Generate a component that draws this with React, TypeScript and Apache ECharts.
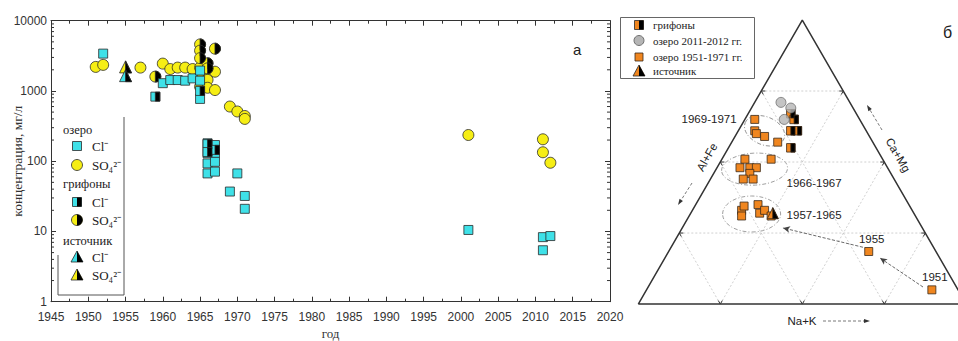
import React, { useEffect, useRef } from "react";
import * as echarts from "echarts";

// ---------- Panel "а": concentration vs year (mg/l) ----------
const lakeCl: number[][] = [
  [1952, 3400], [1960, 1290], [1961, 1430], [1962, 1430], [1963, 1400], [1964, 1510],
  [1965, 1950], [1965, 1400], [1965, 770],
  [1966, 180], [1966, 130], [1966, 93], [1966, 67],
  [1967, 170], [1967, 130], [1967, 98], [1967, 71],
  [1969, 37], [1970, 67], [1971, 32], [1971, 21],
  [2001, 10.5], [2011, 8.3], [2011, 5.4], [2012, 8.6],
];
const lakeSO4: number[][] = [
  [1951, 2200], [1952, 2350], [1957, 2150], [1960, 2450], [1961, 2050], [1962, 2150],
  [1963, 2150], [1964, 2050], [1965, 2150], [1965, 1450], [1965, 1150],
  [1966, 1880], [1966, 1440], [1966, 1110], [1967, 1880], [1967, 1030],
  [1969, 600], [1970, 510], [1971, 440], [1971, 400],
  [2001, 236], [2011, 205], [2011, 134], [2012, 95],
];
const griffonCl: number[][] = [[1959, 830], [1965, 1000], [1966, 175], [1966, 135], [1967, 145]];
const griffonSO4: number[][] = [
  [1959, 1600], [1965, 4600], [1965, 3750], [1965, 2930], [1966, 2480], [1966, 2100], [1967, 4000],
];
const sourceCl: number[][] = [[1955, 1650]];
const sourceSO4: number[][] = [[1955, 2200]];

const yDecades = [1, 10, 100, 1000];
const minorMultipliers = [2, 3, 4, 5, 6, 7, 8, 9];

// ---------- Panel "б": ternary compositions [Na+K, Ca+Mg, Al+Fe] % ----------
const ternLake1951_1971: number[][] = [
  // 1969-1971
  [3, 65, 32], [5, 61, 34], [6, 60, 34], [9, 59, 32], [14, 57, 29],
  // 1966-1967
  [7, 51, 42], [15, 51, 34], [7, 48, 45], [10, 48, 42], [12, 48, 40], [11, 46, 43], [10, 44, 46], [13, 44, 43],
  // 1957-1965
  [15, 33, 52], [15, 34.5, 50.5], [16, 31, 53], [19, 35, 46], [21, 32, 47], [22, 33, 45], [25, 31, 44],
];
const ternLakeDatedYears = ["1955", "1951"];
const ternLakeDated: number[][] = [[61, 18.5, 20.5], [87, 5, 8]];
const ternLake2011_2012: number[][] = [[8, 71, 21], [12, 69, 19], [12, 65, 23]];
const ternGriffons: number[][] = [[13, 67, 20], [15, 65, 20], [16, 61, 23], [18, 61, 21], [19, 55, 26]];
const ternSource: number[][] = [[25, 32, 43]];
const ternGroupLabels = ["1969-1971", "1966-1967", "1957-1965"];
const ternGroupCenters: number[][] = [[8, 61, 31], [11.7, 47.5, 40.8], [18.7, 31.7, 49.6]];
const ternArrows: number[][][] = [
  [[83.8, 6, 10.2], [65.6, 16.2, 18.2]],
  [[58.5, 20, 21.5], [30.7, 26.8, 42.5]],
];
const ternGridLevels = [25, 50, 75];

// ---------- styling ----------
const SANS = '"Liberation Sans", Arial, sans-serif';
const SERIF = '"Liberation Serif", "Times New Roman", serif';
const CYAN = "#3fe1e8";
const YELLOW = "#f6ee14";
const ORANGE = "#f0861f";
const GREY = "#b5b5b5";
const EDGE = "#2a2a2a";

const HALF_SQ = "path://M0,0M5,0L10,0L10,10L5,10Z";
const HALF_CIRC = "path://M0,5M5,0A5,5,0,0,1,5,10Z";
const HALF_TRI = "path://M0,10M5,0L10,10L5,10Z";

const SQ3 = Math.sqrt(3) / 2;
const tern = (c: number[]) => [(c[0] + c[1] / 2) / 100, (c[1] / 100) * SQ3];

function scatterA(data: number[][], symbol: string, size: number, color: string) {
  return {
    type: "scatter", xAxisIndex: 0, yAxisIndex: 0, data, symbol, symbolSize: size, silent: true,
    itemStyle: { color, borderColor: EDGE, borderWidth: 0.8, opacity: 1 },
  };
}
function scatterB(data: number[][], symbol: string, size: number, color: string, extra: any = {}) {
  return {
    type: "scatter", xAxisIndex: 2, yAxisIndex: 2, data: data.map(tern), symbol, symbolSize: size, silent: true,
    itemStyle: { color, borderColor: "#3a2a1a", borderWidth: 0.8, opacity: 1 }, ...extra,
  };
}

function buildOption() {
  const minorTicks: number[][] = [];
  yDecades.forEach((d) => minorMultipliers.forEach((m) => minorTicks.push([1945, d * m])));

  const gridSegs: number[][] = [];
  ternGridLevels.forEach((k) => {
    const segs = [
      [[0, k, 100 - k], [100 - k, k, 0]],
      [[k, 0, 100 - k], [k, 100 - k, 0]],
      [[100 - k, 0, k], [0, 100 - k, k]],
    ];
    segs.forEach(([a, b]) => gridSegs.push([...tern(a), ...tern(b)]));
  });

  const axisCommon = {
    axisLine: { show: true, lineStyle: { color: "#333", width: 1 } },
    splitLine: { show: false },
  };

  return {
    animation: false,
    backgroundColor: "#fff",
    grid: [
      { left: 51, top: 20.7, width: 559, height: 281, containLabel: false, outerBoundsMode: "none" },
      { left: 638.3, top: 20, width: 328, height: 328 * SQ3, containLabel: false, outerBoundsMode: "none" },
    ],
    xAxis: [
      {
        ...axisCommon, gridIndex: 0, type: "value", min: 1945, max: 2020, interval: 5, position: "bottom",
        axisTick: { inside: true, length: 5, lineStyle: { color: "#333" } },
        minorTick: { show: true, splitNumber: 2, length: 3, lineStyle: { color: "#333" } },
        axisLabel: { formatter: (v: number) => String(v), fontFamily: SANS, fontSize: 12, color: "#333", margin: 9 },
        name: "год", nameLocation: "middle", nameGap: 25, nameMoveOverlap: false,
        nameTextStyle: { fontFamily: SERIF, fontSize: 13, color: "#333" },
      },
      {
        ...axisCommon, gridIndex: 0, type: "value", min: 1945, max: 2020, interval: 5, position: "top",
        axisTick: { inside: true, length: 5, lineStyle: { color: "#333" } },
        minorTick: { show: true, splitNumber: 2, length: 3, lineStyle: { color: "#333" } },
        axisLabel: { show: false },
      },
      { gridIndex: 1, type: "value", min: 0, max: 1, show: false },
    ],
    yAxis: [
      {
        ...axisCommon, gridIndex: 0, type: "log", logBase: 10, min: 1, max: 10000, position: "left",
        axisTick: { inside: true, length: 5, lineStyle: { color: "#333" } },
        axisLabel: { formatter: (v: number) => String(Math.round(v)), fontFamily: SANS, fontSize: 12, color: "#333", margin: 4 },
        name: "концентрация, мг/л", nameLocation: "middle", nameGap: 27, nameMoveOverlap: false,
        nameTextStyle: { fontFamily: SERIF, fontSize: 13.5, color: "#333" },
      },
      {
        ...axisCommon, gridIndex: 0, type: "log", logBase: 10, min: 1, max: 10000, position: "right",
        axisTick: { inside: true, length: 5, lineStyle: { color: "#333" } },
        axisLabel: { show: false },
      },
      { gridIndex: 1, type: "value", min: 0, max: SQ3, show: false },
    ],
    series: [
      {
        type: "custom", xAxisIndex: 0, yAxisIndex: 0, silent: true, clip: false, data: minorTicks,
        renderItem: (_p: any, api: any) => {
          const v = api.value(1);
          const l = api.coord([1945, v]);
          const r = api.coord([2020, v]);
          return {
            type: "group",
            children: [
              { type: "line", shape: { x1: l[0], y1: l[1], x2: l[0] + 3, y2: l[1] }, style: { stroke: "#333", lineWidth: 1 } },
              { type: "line", shape: { x1: r[0], y1: r[1], x2: r[0] - 3, y2: r[1] }, style: { stroke: "#333", lineWidth: 1 } },
            ],
          };
        },
      },
      scatterA(lakeSO4, "circle", 11, YELLOW),
      scatterA(griffonSO4, "circle", 11, YELLOW),
      scatterA(griffonSO4, HALF_CIRC, 11, "#000"),
      scatterA(sourceSO4, "triangle", 12, YELLOW),
      scatterA(sourceSO4, HALF_TRI, 12, "#000"),
      scatterA(lakeCl, "rect", 9, CYAN),
      scatterA(griffonCl, "rect", 9, CYAN),
      scatterA(griffonCl, HALF_SQ, 9, "#000"),
      scatterA(sourceCl, "triangle", 12, CYAN),
      scatterA(sourceCl, HALF_TRI, 12, "#000"),
      // ternary grid with edge ticks
      {
        type: "custom", xAxisIndex: 2, yAxisIndex: 2, silent: true, clip: false, data: gridSegs,
        renderItem: (_p: any, api: any) => {
          const a = api.coord([api.value(0), api.value(1)]);
          const b = api.coord([api.value(2), api.value(3)]);
          const len = Math.hypot(b[0] - a[0], b[1] - a[1]);
          const ux = (b[0] - a[0]) / len, uy = (b[1] - a[1]) / len;
          const t = 4;
          return {
            type: "group",
            children: [
              {
                type: "line", shape: { x1: a[0], y1: a[1], x2: b[0], y2: b[1] },
                style: { stroke: "#c4c4c4", lineWidth: 0.8, lineDash: [2, 2] },
              },
              { type: "line", shape: { x1: a[0], y1: a[1], x2: a[0] + ux * t, y2: a[1] + uy * t }, style: { stroke: "#333", lineWidth: 1 } },
              { type: "line", shape: { x1: b[0], y1: b[1], x2: b[0] - ux * t, y2: b[1] - uy * t }, style: { stroke: "#333", lineWidth: 1 } },
            ],
          };
        },
      },
      {
        type: "line", xAxisIndex: 2, yAxisIndex: 2, silent: true, clip: false, symbol: "none",
        data: [tern([0, 0, 100]), tern([100, 0, 0]), tern([0, 100, 0]), tern([0, 0, 100])],
        lineStyle: { color: "#333", width: 1.5 },
      },
      scatterB(ternLake1951_1971, "rect", 8, ORANGE, {
        markLine: {
          silent: true, symbol: ["none", "arrow"], symbolSize: [5, 7], animation: false,
          label: { show: false },
          lineStyle: { type: "dashed", color: "#444", width: 0.8 },
          emphasis: { disabled: true },
          data: ternArrows.map(([a, b]) => [{ coord: tern(a) }, { coord: tern(b) }]),
        },
      }),
      {
        ...scatterB(ternLakeDated, "rect", 8, ORANGE),
        data: ternLakeDated.map((c, i) => ({ value: tern(c), name: ternLakeDatedYears[i] })),
        label: { show: true, formatter: "{b}", position: "top", distance: 2, offset: [3, 0], fontFamily: SANS, fontSize: 11.5, color: "#222" },
      },
      scatterB(ternGriffons, "rect", 8.5, ORANGE),
      scatterB(ternGriffons, HALF_SQ, 8.5, "#000"),
      scatterB(ternLake2011_2012, "circle", 10, GREY, { itemStyle: { color: GREY, borderColor: "#555", borderWidth: 0.8 } }),
      scatterB(ternSource, "triangle", 11, ORANGE),
      scatterB(ternSource, HALF_TRI, 11, "#000"),
    ],
  };
}

function txt(x: number, y: number, text: string, font: string, size: number, align = "left", rotation = 0, color = "#222") {
  return {
    type: "text", x, y, rotation, silent: true,
    style: {
      text, fill: color, fontFamily: font, fontSize: size,
      textAlign: align, align, textVerticalAlign: "middle", verticalAlign: "middle",
    },
  };
}
function arrow(x1: number, y1: number, x2: number, y2: number) {
  const ang = Math.atan2(y2 - y1, x2 - x1);
  const L = 6, W = 2;
  const bx = x2 - L * Math.cos(ang), by = y2 - L * Math.sin(ang);
  const px = -Math.sin(ang) * W, py = Math.cos(ang) * W;
  return [
    { type: "line", silent: true, shape: { x1, y1, x2: bx, y2: by }, style: { stroke: "#555", lineWidth: 0.8, lineDash: [3, 2] } },
    { type: "polygon", silent: true, shape: { points: [[x2, y2], [bx + px, by + py], [bx - px, by - py]] }, style: { fill: "#333" } },
  ];
}

function buildGraphic(chart: any) {
  const els: any[] = [];
  // legend of panel а
  els.push({ type: "polyline", silent: true, shape: { points: [[124, 117], [124, 295], [58, 295], [58, 255]] }, style: { stroke: "#555", lineWidth: 1, fill: null } });
  const mx = 77, tx = 92;
  const halfSq = (y: number) => [
    { type: "rect", silent: true, shape: { x: mx - 4.5, y: y - 4.5, width: 9, height: 9 }, style: { fill: CYAN, stroke: EDGE, lineWidth: 0.8 } },
    { type: "rect", silent: true, shape: { x: mx, y: y - 4.5, width: 4.5, height: 9 }, style: { fill: "#000" } },
  ];
  const halfCirc = (y: number) => [
    { type: "circle", silent: true, shape: { cx: mx, cy: y, r: 5.5 }, style: { fill: YELLOW, stroke: EDGE, lineWidth: 0.8 } },
    { type: "sector", silent: true, shape: { cx: mx, cy: y, r0: 0, r: 5.5, startAngle: -Math.PI / 2, endAngle: Math.PI / 2 }, style: { fill: "#000" } },
  ];
  const halfTri = (x: number, y: number, col: string) => [
    { type: "polygon", silent: true, shape: { points: [[x, y - 6], [x + 6, y + 5], [x - 6, y + 5]] }, style: { fill: col, stroke: EDGE, lineWidth: 0.8 } },
    { type: "polygon", silent: true, shape: { points: [[x, y - 6], [x + 6, y + 5], [x, y + 5]] }, style: { fill: "#000" } },
  ];
  els.push(txt(63, 130, "озеро", SERIF, 12.5));
  els.push({ type: "rect", silent: true, shape: { x: mx - 4.5, y: 146 - 4.5, width: 9, height: 9 }, style: { fill: CYAN, stroke: EDGE, lineWidth: 0.8 } });
  els.push(txt(tx, 146, "Cl⁻", SERIF, 13));
  els.push({ type: "circle", silent: true, shape: { cx: mx, cy: 165, r: 5.5 }, style: { fill: YELLOW, stroke: EDGE, lineWidth: 0.8 } });
  els.push(txt(tx, 165, "SO₄²⁻", SERIF, 13));
  els.push(txt(63, 184, "грифоны", SERIF, 12.5));
  els.push(...halfSq(202));
  els.push(txt(tx, 202, "Cl⁻", SERIF, 13));
  els.push(...halfCirc(220));
  els.push(txt(tx, 220, "SO₄²⁻", SERIF, 13));
  els.push(txt(63, 241, "источник", SERIF, 12.5));
  els.push(...halfTri(mx, 257, CYAN));
  els.push(txt(tx, 257, "Cl⁻", SERIF, 13));
  els.push(...halfTri(mx, 275, YELLOW));
  els.push(txt(tx, 275, "SO₄²⁻", SERIF, 13));
  els.push(txt(573, 49, "а", SANS, 15));

  // legend of panel б
  els.push({ type: "rect", silent: true, shape: { x: 620.5, y: 17.5, width: 134, height: 61 }, style: { fill: "#fff", stroke: "#666", lineWidth: 1 } });
  const lx = 639, ltx = 653;
  els.push({ type: "rect", silent: true, shape: { x: lx - 4.5, y: 25 - 4.5, width: 9, height: 9 }, style: { fill: ORANGE, stroke: EDGE, lineWidth: 0.8 } });
  els.push({ type: "rect", silent: true, shape: { x: lx, y: 25 - 4.5, width: 4.5, height: 9 }, style: { fill: "#000" } });
  els.push(txt(ltx, 25, "грифоны", SERIF, 11));
  els.push({ type: "circle", silent: true, shape: { cx: lx, cy: 40.5, r: 5 }, style: { fill: GREY, stroke: "#555", lineWidth: 0.8 } });
  els.push(txt(ltx, 40.5, "озеро 2011-2012 гг.", SERIF, 11));
  els.push({ type: "rect", silent: true, shape: { x: lx - 4, y: 57 - 4, width: 8, height: 8 }, style: { fill: ORANGE, stroke: "#3a2a1a", lineWidth: 0.8 } });
  els.push(txt(ltx, 57, "озеро 1951-1971 гг.", SERIF, 11));
  els.push(...halfTri(lx, 71, ORANGE));
  els.push(txt(ltx, 71, "источник", SERIF, 11));
  els.push(txt(943, 32, "б", SANS, 16));

  // ternary axis names and arrows
  els.push(txt(802, 321, "Na+K", SANS, 11.5, "center"));
  els.push(...arrow(823, 321, 870, 321));
  els.push(txt(707, 157, "Al+Fe", SANS, 11.5, "center", Math.PI / 3));
  els.push(...arrow(692, 183, 678, 205));
  els.push(txt(898, 155, "Ca+Mg", SANS, 11.5, "center", -Math.PI / 3));
  els.push(...arrow(882, 130, 867, 105));

  // group ellipses + labels
  const ell = [
    { rx: 21, ry: 14, rot: -0.4, lx: -28, ly: -12, align: "right" },
    { rx: 33, ry: 16, rot: 0.05, lx: 32, ly: 14, align: "left" },
    { rx: 29, ry: 18, rot: 0, lx: 35, ly: 1, align: "left" },
  ];
  ternGroupCenters.forEach((c, i) => {
    const p = chart.convertToPixel({ xAxisIndex: 2, yAxisIndex: 2 }, tern(c));
    const e = ell[i];
    els.push({
      type: "ellipse", silent: true, x: p[0], y: p[1], rotation: e.rot,
      shape: { cx: 0, cy: 0, rx: e.rx, ry: e.ry },
      style: { fill: null, stroke: "#888", lineWidth: 0.8, lineDash: [4, 2, 1, 2] },
    });
    els.push(txt(p[0] + e.lx, p[1] + e.ly, ternGroupLabels[i], SANS, 11.5, e.align));
  });
  return els;
}

export default function App() {
  const ref = useRef<HTMLDivElement>(null);
  useEffect(() => {
    const el = ref.current!;
    const chart = echarts.init(el, undefined, { renderer: "svg", width: 958, height: 341 });
    chart.setOption(buildOption() as any);
    chart.setOption({ graphic: buildGraphic(chart) } as any);
    return () => chart.dispose();
  }, []);
  return (
    <div
      ref={ref}
      style={{ position: "absolute", left: 0, top: 0, width: 958, height: 341, background: "#fff" }}
    />
  );
}
